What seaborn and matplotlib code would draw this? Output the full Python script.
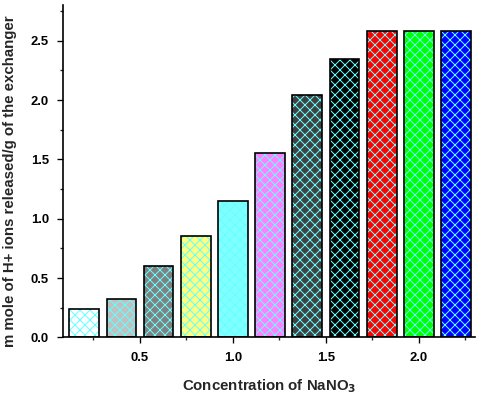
import matplotlib
matplotlib.use("Agg")
import matplotlib.pyplot as plt
import seaborn as sns
import pandas as pd
from matplotlib.ticker import MultipleLocator, FixedLocator

# Data
concentration = [0.2, 0.4, 0.6, 0.8, 1.0, 1.2, 1.4, 1.6, 1.8, 2.0, 2.2]
h_released = [0.236, 0.32, 0.60, 0.853, 1.146, 1.55, 2.045, 2.35, 2.585, 2.585, 2.585]
bar_colors = ["#ffffff", "#c0c0c0", "#808080", "#ffff80", "#80ffff", "#ff80ff",
              "#404040", "#000000", "#ff0000", "#00ff00", "#0000ff"]
x_ticks = [0.5, 1.0, 1.5, 2.0]
y_ticks = [0.0, 0.5, 1.0, 1.5, 2.0, 2.5]

df = pd.DataFrame({"conc": concentration, "h": h_released,
                   "grp": [f"{c:.1f}" for c in concentration]})

sns.set_style("white")
plt.rcParams["font.family"] = ["Liberation Sans", "DejaVu Sans"]
plt.rcParams["font.weight"] = "bold"
plt.rcParams["hatch.linewidth"] = 0.6

fig = plt.figure(figsize=(4.0, 3.3), dpi=120)
ax = fig.add_axes([0.132, 0.148, 0.857, 0.839])

# hatched fill layer (hatch uses edge colour)
sns.barplot(data=df, x="conc", y="h", hue="grp", palette=bar_colors,
            native_scale=True, width=0.8, legend=False, ax=ax,
            edgecolor="#66ffff", linewidth=0, hatch="xxxx", saturation=1)
# black outline layer
sns.barplot(data=df, x="conc", y="h", hue="grp", palette=bar_colors,
            native_scale=True, width=0.8, legend=False, ax=ax,
            fill=False, edgecolor="black", linewidth=1.0)
for p in ax.patches[len(concentration):]:
    p.set_edgecolor("black")
    p.set_facecolor("none")

ax.set_xlim(0.088, 2.3)
ax.set_ylim(0, 2.8)
ax.xaxis.set_major_locator(FixedLocator(x_ticks))
ax.xaxis.set_minor_locator(MultipleLocator(0.25))
ax.yaxis.set_major_locator(FixedLocator(y_ticks))
ax.yaxis.set_minor_locator(MultipleLocator(0.25))
ax.set_xticklabels([f"{t:.1f}" for t in x_ticks])
ax.set_yticklabels([f"{t:.1f}" for t in y_ticks])

for s in ["top", "right"]:
    ax.spines[s].set_visible(False)
for s in ["left", "bottom"]:
    ax.spines[s].set_linewidth(1.0)
    ax.spines[s].set_color("black")

ax.tick_params(which="major", direction="out", length=3.6, width=0.8,
               labelsize=7.8, colors="black", pad=5,
               bottom=True, left=True)
ax.tick_params(which="minor", direction="out", length=1.8, width=0.8,
               bottom=True, left=True)
for lab in ax.get_xticklabels() + ax.get_yticklabels():
    lab.set_fontweight("bold")

ax.set_xlabel("Concentration of NaNO$_\\mathbf{3}$", fontsize=9.0,
              fontweight="bold", labelpad=8)
ax.set_ylabel("m mole of H+ ions released/g of the exchanger", fontsize=9.0,
              fontweight="bold")
ax.yaxis.set_label_coords(-0.113, 0.47)

fig.savefig("out.png", dpi=120)
